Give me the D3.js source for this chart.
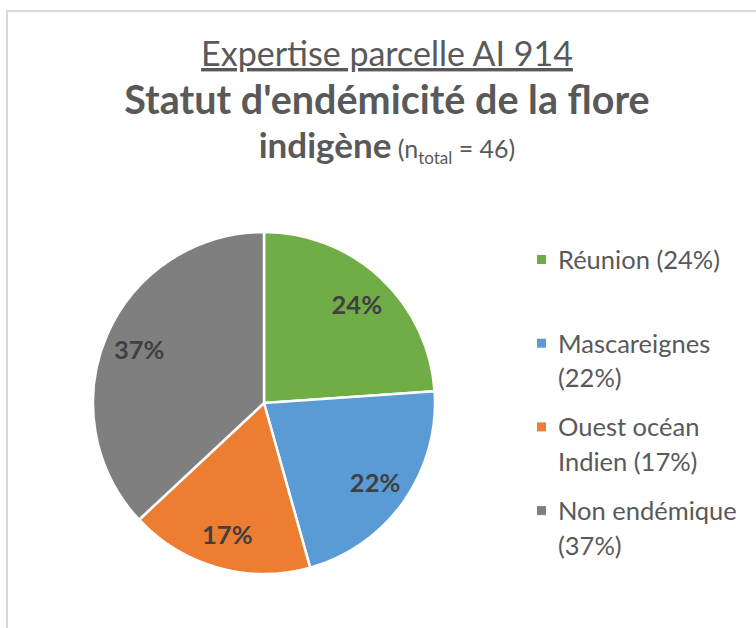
<!DOCTYPE html>
<html>
<head>
<meta charset="utf-8">
<script src="https://cdn.jsdelivr.net/npm/d3@7"></script>
<style>
  body { margin: 0; background: #fff; }
  svg { display: block; font-family: Lato, "Open Sans", sans-serif; }
</style>
</head>
<body>
<svg id="chart"></svg>
<script>
// data
const categories = ["Réunion", "Mascareignes", "Ouest océan Indien", "Non endémique"];
const counts = [11, 10, 8, 17];
const colors = ["#70ad47", "#5b9bd5", "#ed7d31", "#7f7f7f"];
const legendLines = [
  ["Réunion (24%)"],
  ["Mascareignes", "(22%)"],
  ["Ouest océan", "Indien (17%)"],
  ["Non endémique", "(37%)"]
];
const titleLine1 = "Expertise parcelle AI 914";
const titleLine2 = "Statut d'endémicité de la flore";
const titleLine3 = "indigène";
const nTotal = d3.sum(counts);

const width = 756, height = 628;
const cx = 264, cy = 403, radius = 171;

const svg = d3.select('#chart')
  .attr('width', width)
  .attr('height', height);

svg.append('rect')
  .attr('width', width).attr('height', height)
  .attr('fill', '#fff');

// chart area border (cut off on right and bottom)
svg.append('rect')
  .attr('x', 7).attr('y', 11)
  .attr('width', 800).attr('height', 700)
  .attr('fill', 'none')
  .attr('stroke', '#d9d9d9')
  .attr('stroke-width', 2);

// title
const title = svg.append('g').attr('fill', '#595959').attr('text-anchor', 'middle');
title.append('text')
  .attr('x', 387).attr('y', 66)
  .attr('font-size', 34)
  .attr('text-decoration', 'underline')
  .text(titleLine1);
title.append('text')
  .attr('x', 387).attr('y', 114)
  .attr('font-size', 39.5)
  .attr('font-weight', 'bold')
  .text(titleLine2);
const t3 = title.append('text')
  .attr('x', 387).attr('y', 158)
  .attr('font-size', 35);
t3.append('tspan').attr('font-weight', 'bold').text(titleLine3);
t3.append('tspan').attr('font-size', 25).text(' (n');
t3.append('tspan').attr('font-size', 17).attr('dy', 6).text('total');
t3.append('tspan').attr('font-size', 25).attr('dy', -6).text(' = ' + nTotal + ')');

// pie
const pie = d3.pie().sort(null).value(d => d);
const arcs = pie(counts);
const arc = d3.arc().innerRadius(0).outerRadius(radius);
const labelArc = d3.arc().innerRadius(136).outerRadius(136);

const g = svg.append('g').attr('transform', `translate(${cx},${cy})`);

g.selectAll('path')
  .data(arcs)
  .enter()
  .append('path')
  .attr('d', arc)
  .attr('fill', (d, i) => colors[i])
  .attr('stroke', '#fff')
  .attr('stroke-width', 2.5)
  .attr('stroke-linejoin', 'round');

const pct = d3.format('.0%');
g.selectAll('text.lbl')
  .data(arcs)
  .enter()
  .append('text')
  .attr('class', 'lbl')
  .attr('x', d => labelArc.centroid(d)[0])
  .attr('y', d => labelArc.centroid(d)[1])
  .attr('dy', '0.4em')
  .attr('text-anchor', 'middle')
  .attr('font-size', 25.5)
  .attr('font-weight', 'bold')
  .attr('fill', '#404040')
  .text(d => pct(d.data / nTotal));

// legend
const legendY = d3.scaleLinear().domain([0, 1]).range([269, 352.7]);
const legend = svg.append('g');
const items = legend.selectAll('g')
  .data(categories)
  .enter()
  .append('g')
  .attr('transform', (d, i) => `translate(537,${legendY(i)})`);

items.append('rect')
  .attr('x', 0).attr('y', -14)
  .attr('width', 9).attr('height', 9)
  .attr('fill', (d, i) => colors[i]);

items.append('text')
  .attr('x', 21)
  .attr('font-size', 25.5)
  .attr('fill', '#595959')
  .selectAll('tspan')
  .data((d, i) => legendLines[i])
  .enter()
  .append('tspan')
  .attr('x', 21)
  .attr('y', (d, j) => j * 34.5)
  .text(d => d);
</script>
</body>
</html>
